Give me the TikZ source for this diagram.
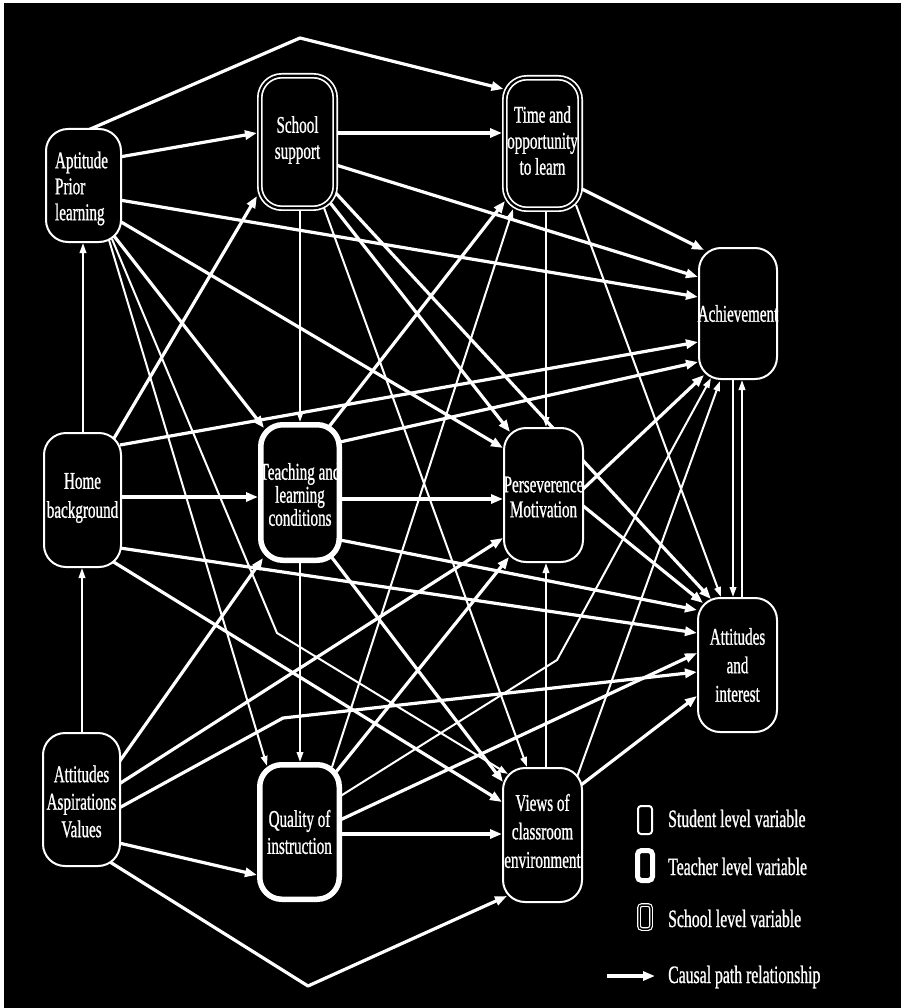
\documentclass[tikz,border=0pt]{standalone}
\usepackage{fontspec}
\setmainfont{Liberation Serif}[FakeStretch=0.63,FakeBold=0.9]
\usetikzlibrary{arrows.meta,calc}
\pgfdeclarelayer{bg}
\pgfdeclarelayer{edges}
\pgfsetlayers{bg,edges,main}
\tikzset{
  box/.style={rounded corners=22pt, fill=black, draw=white, inner sep=0pt},
  stud/.style={box, line width=2pt},
  teach/.style={box, line width=5.5pt},
  school/.style={box, line width=1.7pt, double=black, double distance=2.2pt},
  txt/.style={text=white, font=\fontsize{24}{26}\selectfont, align=center, inner sep=0pt},
  legt/.style={text=white, font=\fontsize{25}{26}\selectfont, inner sep=0pt, anchor=base west},
  lnk/.style={draw=white, line width=3.2pt, line join=round, -{Triangle[length=12pt,width=9pt]}},
  thn/.style={draw=white, line width=2pt, line join=round, -{Triangle[length=10pt,width=6.5pt]}},
}
\begin{document}
\begin{tikzpicture}[x=1pt,y=-1pt]
\begin{pgfonlayer}{bg}
  \fill[white] (0,0) rectangle (901,1008);
  \fill[black] (4,3) rectangle (901,1008);
\end{pgfonlayer}
\useasboundingbox (0,0) rectangle (901,1008);

% ---- nodes
\node[stud,   minimum width=75pt,   minimum height=113pt]   (A)   at (83.5,185.5) {};
\node[school, minimum width=75.4pt, minimum height=132.4pt] (SS)  at (297.5,142) {};
\node[school, minimum width=75.4pt, minimum height=131.4pt] (T)   at (542.5,143.5) {};
\node[stud,   minimum width=78pt,   minimum height=131pt]   (Ach) at (738,313.5) {};
\node[stud,   minimum width=77pt,   minimum height=134pt]   (H)   at (82.5,500) {};
\node[teach,  minimum width=78.5pt, minimum height=135.5pt] (TL)  at (300,492.5) {};
\node[stud,   minimum width=79pt,   minimum height=134pt]   (P)   at (543.5,495) {};
\node[stud,   minimum width=79pt,   minimum height=134pt]   (AI)  at (737.5,665) {};
\node[stud,   minimum width=77pt,   minimum height=133pt]   (AAV) at (81.5,799.5) {};
\node[teach,  minimum width=79.5pt, minimum height=134.5pt] (Q)   at (299.5,832) {};
\node[stud,   minimum width=79pt,   minimum height=134pt]   (V)   at (542.5,835) {};

\node[txt, align=left] (tA) at ($(A)+(-2,3)$) {Aptitude\\Prior\\learning};
\node[txt] (tSS) at ($(SS)+(0,-2)$) {School\\support};
\node[txt] (tT) at ($(T)+(0,-3)$) {Time and\\opportunity\\to learn};
\node[txt] (tAch) at (Ach) {Achievement};
\node[txt, font=\fontsize{24}{29}\selectfont] (tH) at ($(H)+(0,-2)$) {Home\\background};
\node[txt, font=\fontsize{24}{23}\selectfont] (tTL) at ($(TL)+(0,2)$) {Teaching and\\learning\\conditions};
\node[txt, font=\fontsize{24}{25}\selectfont] (tP) at ($(P)+(0,2)$) {Perseverence\\Motivation};
\node[txt, font=\fontsize{24}{28.5}\selectfont] (tAI) at (AI) {Attitudes\\and\\interest};
\node[txt, font=\fontsize{24}{27.5}\selectfont] (tAAV) at ($(AAV)+(0,2)$) {Attitudes\\Aspirations\\Values};
\node[txt, font=\fontsize{24}{27}\selectfont] (tQ) at (Q) {Quality of\\instruction};
\node[txt, font=\fontsize{24}{28.5}\selectfont] (tV) at ($(V)+(0,-4)$) {Views of\\classroom\\environment};

% ---- bend points
\coordinate (pk1) at (300,38);
\coordinate (pk2) at (308,986);
\coordinate (k1) at (277,633);
\coordinate (k2) at (283,718);
\coordinate (k3) at (557,660);

\begin{pgfonlayer}{edges}
% from Aptitude / Prior learning
\draw[lnk] ($(A)+(3.5,-55)$) -- (pk1) -- ($(T)+(-39,-54.5)$);
\draw[lnk] ($(A)+(36,-28.5)$) -- ($(SS)+(-40.5,-9)$);
\draw[lnk] ($(A)+(36,14.5)$) -- ($(Ach)+(-40,-16.5)$);
\draw[lnk] ($(A)+(36,35.5)$) -- ($(P)+(-40.5,-47)$);
\draw[lnk] ($(A)+(30.5,50.5)$) -- ($(TL)+(-36,-64.5)$);
\draw[thn] ($(A)+(28.5,53.5)$) -- (k1) -- ($(V)+(-34.5,-61)$);
\draw[thn] ($(A)+(25.5,54.5)$) -- ($(Q)+(-32.5,-66)$);
% from Home background
\draw[thn] ($(H)+(0.5,-66)$) -- ($(A)+(-0.5,57.5)$);
\draw[lnk] ($(H)+(30.5,-60)$) -- ($(SS)+(-40.5,54)$);
\draw[lnk] ($(H)+(37.5,-55)$) -- ($(Ach)+(-40,28.5)$);
\draw[lnk] ($(H)+(37.5,-3)$) -- ($(TL)+(-42,4.5)$);
\draw[lnk] ($(H)+(37.5,48)$) -- ($(AI)+(-40.5,-32)$);
\draw[lnk] ($(H)+(29.5,61)$) -- ($(V)+(-40.5,-33)$);
% from Attitudes Aspirations Values
\draw[thn] ($(AAV)+(0.5,-65.5)$) -- ($(H)+(-0.5,68)$);
\draw[lnk] ($(AAV)+(35.5,-34.5)$) -- ($(TL)+(-37,65.5)$);
\draw[lnk] ($(AAV)+(37.5,-15.5)$) -- ($(P)+(-40.5,43)$);
\draw[lnk] ($(AAV)+(37.5,8.5)$) -- (k2) -- ($(AI)+(-40.5,7)$);
\draw[lnk] ($(AAV)+(37.5,43.5)$) -- ($(Q)+(-42.5,43)$);
\draw[lnk] ($(AAV)+(28.5,62.5)$) -- (pk2) -- ($(V)+(-35.5,61)$);
% from School support
\draw[lnk] ($(SS)+(38.5,-9)$) -- ($(T)+(-40.5,-10.5)$);
\draw[lnk] ($(SS)+(38.5,23)$) -- ($(Ach)+(-40,-36.5)$);
\draw[thn] ($(SS)+(2.5,67)$) -- ($(TL)+(0,-70.5)$);
\draw[lnk] ($(SS)+(30.5,58)$) -- ($(P)+(-33.5,-63)$);
\draw[thn] ($(SS)+(25.5,63)$) -- ($(V)+(-15.5,-68)$);
\draw[lnk] ($(SS)+(35.5,48)$) -- ($(AI)+(-26.5,-66)$);
% from Time and opportunity
\draw[thn] ($(T)+(3.5,66.5)$) -- ($(P)+(2.5,-68)$);
\draw[lnk] ($(T)+(37.5,44.5)$) -- ($(Ach)+(-34,-63.5)$);
\draw[thn] ($(T)+(33.5,61.5)$) -- ($(AI)+(-16.5,-68)$);
% from Teaching and learning conditions
\draw[lnk] ($(TL)+(28,-64.5)$) -- ($(T)+(-37.5,57.5)$);
\draw[lnk] ($(TL)+(40,-50.5)$) -- ($(Ach)+(-40,48.5)$);
\draw[lnk] ($(TL)+(40,6.5)$) -- ($(P)+(-40.5,4)$);
\draw[lnk] ($(TL)+(40,47.5)$) -- ($(AI)+(-40.5,-55)$);
\draw[thn] ($(TL)+(0,68.5)$) -- ($(Q)+(0.5,-70)$);
\draw[lnk] ($(TL)+(30,62.5)$) -- ($(V)+(-39.5,-53)$);
% from Quality of instruction
\draw[thn] ($(Q)+(32.5,-65)$) -- ($(T)+(-29.5,65.5)$);
\draw[lnk] ($(Q)+(36.5,-60)$) -- ($(P)+(-34.5,62)$);
\draw[thn] ($(Q)+(39.5,-35)$) -- (k3) -- ($(Ach)+(-27,64.5)$);
\draw[lnk] ($(Q)+(40.5,-12)$) -- ($(AI)+(-40.5,-12)$);
\draw[lnk] ($(Q)+(40.5,2)$) -- ($(V)+(-40.5,-1)$);
% from Perseverence / Views
\draw[lnk] ($(P)+(38.5,-5)$) -- ($(Ach)+(-34,61.5)$);
\draw[lnk] ($(P)+(38.5,10)$) -- ($(AI)+(-34.5,-62)$);
\draw[thn] ($(V)+(3.5,-66)$) -- ($(P)+(2.5,68)$);
\draw[thn] ($(V)+(34.5,-58)$) -- ($(Ach)+(-18,67.5)$);
\draw[lnk] ($(V)+(38.5,-50)$) -- ($(AI)+(-40.5,31)$);
% Achievement <-> Attitudes and interest
\draw[thn] ($(Ach)+(-5,64.5)$) -- ($(AI)+(-4.5,-68)$);
\draw[thn] ($(AI)+(4.5,-66)$) -- ($(Ach)+(4,66.5)$);
\end{pgfonlayer}

% ---- legend
\node[stud, line width=2pt, rounded corners=3pt, minimum width=14pt, minimum height=28pt] (ls) at (645,820) {};
\node[teach, line width=5pt, rounded corners=4pt, minimum width=15pt, minimum height=30pt] (lt) at (645,865.5) {};
\node[school, line width=1.2pt, double distance=1.5pt, rounded corners=3pt, minimum width=12pt, minimum height=24pt] (lsc) at (645,917) {};
\node[legt] (lst) at (668,827) {Student level variable};
\node[legt] (ltt) at (668,875) {Teacher level variable};
\node[legt] (lsct) at (668,927) {School level variable};
\coordinate (la1) at (607,976);
\coordinate (la2) at (655,976);
\draw[lnk] (la1) -- (la2);
\node[legt] (lat) at (668,983) {Causal path relationship};
\end{tikzpicture}
\end{document}
